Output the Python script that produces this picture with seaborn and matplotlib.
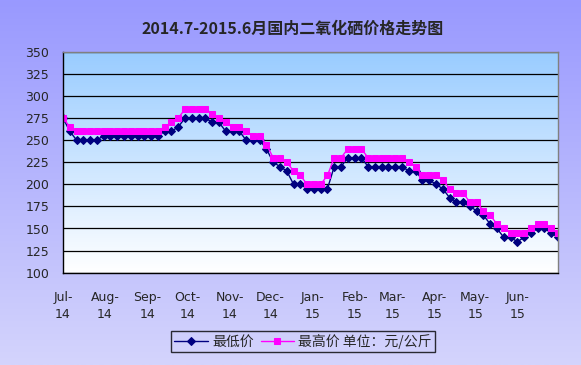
import numpy as np
import pandas as pd
import matplotlib
matplotlib.use("Agg")
import matplotlib.pyplot as plt
import matplotlib.dates as mdates
from matplotlib.colors import LinearSegmentedColormap
import seaborn as sns

# ---- data, one point every 5 days ----
start_date = "2014-07-01"
step_days = 5
low_price = [275, 260, 250, 250, 250, 250, 255, 255, 255, 255,
             255, 255, 255, 255, 255, 260, 260, 265, 275, 275,
             275, 275, 270, 270, 260, 260, 260, 250, 250, 250,
             240, 225, 220, 215, 200, 200, 195, 195, 195, 195,
             220, 220, 230, 230, 230, 220, 220, 220, 220, 220,
             220, 215, 215, 205, 205, 200, 195, 185, 180, 180,
             175, 170, 165, 155, 150, 140, 140, 135, 140, 145,
             150, 150, 145, 140]
high_price = [275, 265, 260, 260, 260, 260, 260, 260, 260, 260,
              260, 260, 260, 260, 260, 265, 270, 275, 285, 285,
              285, 285, 280, 275, 270, 265, 265, 260, 255, 255,
              245, 230, 230, 225, 215, 210, 200, 200, 200, 210,
              230, 230, 240, 240, 240, 230, 230, 230, 230, 230,
              230, 225, 220, 210, 210, 210, 205, 195, 190, 190,
              180, 180, 170, 165, 155, 150, 145, 145, 145, 150,
              155, 155, 150, 145]
month_labels = ["Jul-\n14", "Aug-\n14", "Sep-\n14", "Oct-\n14", "Nov-\n14", "Dec-\n14",
                "Jan-\n15", "Feb-\n15", "Mar-\n15", "Apr-\n15", "May-\n15", "Jun-\n15", ""]
y_ticks = [100, 125, 150, 175, 200, 225, 250, 275, 300, 325, 350]
title = "2014.7-2015.6月国内二氧化硒价格走势图"
label_low = "最低价"
label_high = "最高价 单位：元/公斤"

dates = pd.date_range(start_date, periods=len(low_price), freq=f"{step_days}D")
df = pd.DataFrame({"date": dates, "low": low_price, "high": high_price})

sns.set_style("white")
plt.rcParams["font.family"] = ["Noto Sans CJK SC", "DejaVu Sans"]

fig = plt.figure(figsize=(5.81, 3.65), dpi=100)

# figure background gradient (lavender)
bg = fig.add_axes([0, 0, 1, 1], zorder=-10)
fig_cmap = LinearSegmentedColormap.from_list("figbg", ["#D4D4FC", "#9999FF"])
bg.imshow(np.linspace(1, 0, 256).reshape(-1, 1), aspect="auto", cmap=fig_cmap,
          extent=[0, 1, 0, 1], vmin=0, vmax=1)
bg.set_axis_off()

ax = fig.add_axes([63 / 581, 1 - 272.7 / 365, (558 - 63) / 581, (272.7 - 51.7) / 365])
ax.set_facecolor("none")
plot_cmap = LinearSegmentedColormap.from_list("plotbg", ["#FFFFFF", "#99CCFF"])
ax.imshow(np.linspace(0, 1, 256).reshape(-1, 1)[::-1], aspect="auto", cmap=plot_cmap,
          extent=[0, 1, 0, 1], transform=ax.transAxes, zorder=0, vmin=0, vmax=1)

sns.lineplot(data=df, x="date", y="low", ax=ax, color="#000080", linewidth=1.0,
             marker="D", markersize=3.6, markeredgecolor="#000080", markerfacecolor="#000080",
             label=label_low, zorder=3)
sns.lineplot(data=df, x="date", y="high", ax=ax, color="#FF00FF", linewidth=1.0,
             marker="s", markersize=3.8, markeredgecolor="#FF00FF", markerfacecolor="#FF00FF",
             label=label_high, zorder=4)

x0 = mdates.date2num(pd.Timestamp("2014-07-01"))
x1 = mdates.date2num(pd.Timestamp("2015-07-01"))
ax.set_xlim(x0, x1)
ax.set_ylim(100, 350)

month_ticks = pd.date_range("2014-07-01", "2015-07-01", freq="MS")
ax.set_xticks(mdates.date2num(month_ticks))
ax.set_xticklabels(month_labels, fontsize=9, linespacing=1.45,
                   family=["DejaVu Sans"])
ax.set_yticks(y_ticks)
ax.set_yticklabels([str(v) for v in y_ticks], fontsize=9, family=["DejaVu Sans"])
ax.tick_params(axis="x", direction="in", length=4, width=0.8, color="black", pad=13)
ax.tick_params(axis="y", length=0, pad=10)

ax.grid(axis="y", color="black", linewidth=0.9)
ax.grid(axis="x", visible=False)
ax.set_axisbelow(False)
for s in ["left", "bottom"]:
    ax.spines[s].set_color("black")
    ax.spines[s].set_linewidth(1.0)
for s in ["top", "right"]:
    ax.spines[s].set_color("#808080")
    ax.spines[s].set_linewidth(1.0)
for s in ax.spines.values():
    s.set_zorder(5)
ax.set_xlabel("")
ax.set_ylabel("")

handles, labels = ax.get_legend_handles_labels()
ax.get_legend().remove()
leg = fig.legend(handles, labels, loc="center", bbox_to_anchor=(303 / 581, 1 - 341.5 / 365),
                 ncol=2, frameon=True, fancybox=False, edgecolor="black", facecolor="none",
                 fontsize=10, handlelength=2.4, handletextpad=0.3, columnspacing=0.5,
                 borderpad=0.25, borderaxespad=0)
leg.get_frame().set_linewidth(1.0)

fig.text(293 / 581, 1 - 29 / 365, title, ha="center", va="center",
         fontsize=11.5, fontweight="bold")

fig.savefig("out.png", dpi=100)
